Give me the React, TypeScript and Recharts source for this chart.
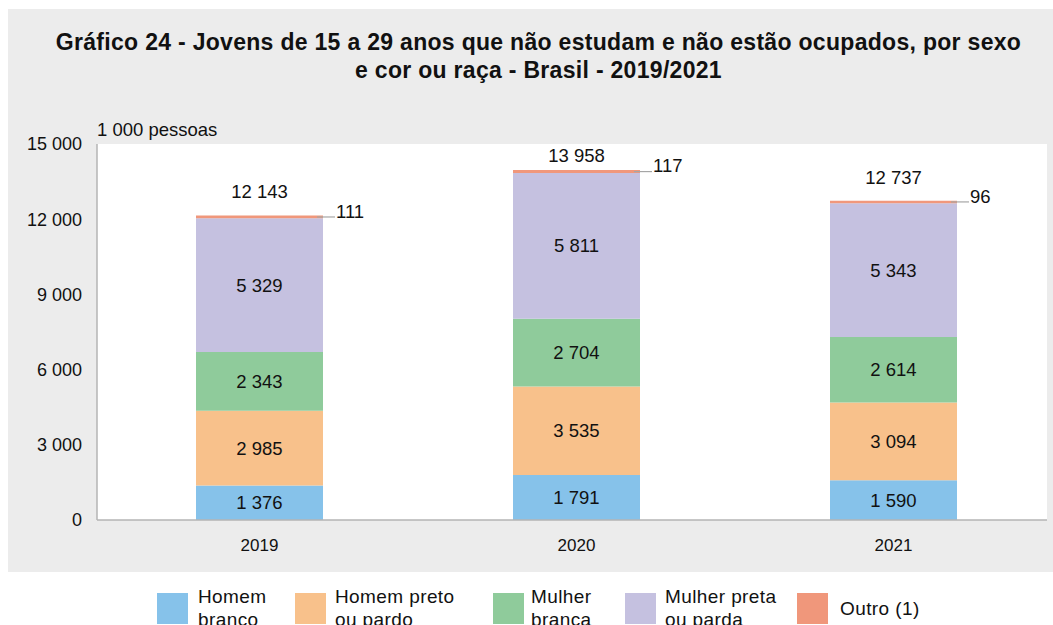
import React from "react";
import {
  BarChart,
  Bar,
  XAxis,
  YAxis,
  CartesianGrid,
  LabelList,
  Legend,
} from "recharts";

const years = ["2019", "2020", "2021"];
const homemBranco = [1376, 1791, 1590];
const homemPreto = [2985, 3535, 3094];
const mulherBranca = [2343, 2704, 2614];
const mulherPreta = [5329, 5811, 5343];
const outro = [111, 117, 96];
const totals = [12143, 13958, 12737];
const yTicks = [0, 3000, 6000, 9000, 12000, 15000];

const seriesKeys = ["hb", "hp", "mb", "mp", "ou"];
const seriesNames = [
  "Homem branco",
  "Homem preto ou pardo",
  "Mulher branca",
  "Mulher preta ou parda",
  "Outro (1)",
];
const legendLines = [
  ["Homem", "branco"],
  ["Homem preto", "ou pardo"],
  ["Mulher", "branca"],
  ["Mulher preta", "ou parda"],
  ["Outro (1)"],
];
const seriesColors = ["#86c2ea", "#f8c18b", "#8fcb9b", "#c5c1e0", "#f0977b"];

const data = years.map((y, i) => ({
  year: y,
  hb: homemBranco[i],
  hp: homemPreto[i],
  mb: mulherBranca[i],
  mp: mulherPreta[i],
  ou: outro[i],
  total: totals[i],
}));

const FONT = "'Liberation Sans', Arial, Helvetica, sans-serif";
const fmt = (n: number | string) =>
  String(n).replace(/\B(?=(\d{3})+(?!\d))/g, " ");

const LABEL_SIZE = 18.5;

const OutroLabel = (props: any) => {
  const { x, y, width, height, value } = props;
  const cy = y + height / 2;
  const right = x + width;
  return (
    <g>
      <line x1={right - 6} x2={right + 12} y1={cy} y2={cy} stroke="#a6a6a6" strokeWidth={1.2} />
      <text
        x={right + 13}
        y={cy - 4}
        fontSize={LABEL_SIZE}
        fontFamily={FONT}
        fill="#111"
        dominantBaseline="middle"
      >
        {fmt(value)}
      </text>
    </g>
  );
};

const TotalLabel = (props: any) => {
  const { x, y, width, value } = props;
  const ty = Math.max(y - 22, 157);
  return (
    <text
      x={x + width / 2}
      y={ty}
      fontSize={LABEL_SIZE}
      fontFamily={FONT}
      fill="#111"
      textAnchor="middle"
      dominantBaseline="middle"
    >
      {fmt(value)}
    </text>
  );
};

const legendLeft = [157, 295, 493, 625, 797];
const legendGap = [10, 9, 7, 9, 12];

const LegendContent = () => (
  <div style={{ position: "relative", width: 1053, height: 46, fontFamily: FONT, fontSize: 19, letterSpacing: 0.4, color: "#111" }}>
    {seriesKeys.map((k, i) => (
      <div
        key={k}
        style={{ position: "absolute", left: legendLeft[i], top: 0, height: 46, display: "flex", alignItems: "center" }}
      >
        <div style={{ width: 31, height: 31, background: seriesColors[i], marginRight: legendGap[i] }} />
        <div style={{ lineHeight: "23px" }}>
          {legendLines[i].map((l, j) => (
            <div key={j} style={{ whiteSpace: "nowrap" }}>{l}</div>
          ))}
        </div>
      </div>
    ))}
  </div>
);

export default function App() {
  return (
    <div
      style={{
        position: "fixed",
        left: 0,
        top: 0,
        width: 1053,
        height: 625,
        overflow: "hidden",
        background: "#fff",
        fontFamily: FONT,
      }}
    >
      <div style={{ position: "absolute", left: 8, top: 9, width: 1045, height: 563, background: "#ececec" }} />
      <div
        style={{
          position: "absolute",
          left: 16,
          top: 28,
          width: 1045,
          textAlign: "center",
          fontWeight: "bold",
          fontSize: 23,
          lineHeight: "28px",
          letterSpacing: 0.3,
          color: "#111",
        }}
      >
        <div>Gráfico 24 - Jovens de 15 a 29 anos que não estudam e não estão ocupados, por sexo</div>
        <div>e cor ou raça - Brasil - 2019/2021</div>
      </div>
      <div style={{ position: "absolute", left: 97, top: 119, fontSize: 18.5, color: "#111" }}>1 000 pessoas</div>
      <div style={{ position: "absolute", left: 0, top: 0 }}>
        <BarChart
          width={1053}
          height={625}
          data={data}
          margin={{ top: 144, right: 6, left: 7, bottom: 75 }}
        >
          <CartesianGrid horizontal={false} vertical={false} fill="#ffffff" />
          <XAxis
            dataKey="year"
            height={30}
            padding={{ left: 4, right: -5 }}
            axisLine={{ stroke: "#b4b4b4", strokeWidth: 1.5 }}
            tickLine={false}
            tickMargin={13}
            tick={{ fontSize: 17, fill: "#111", fontFamily: FONT }}
          />
          <XAxis xAxisId="top" dataKey="year" orientation="top" height={0} tick={false} tickLine={false} axisLine={{ stroke: "#b4b4b4", strokeWidth: 1.5 }} />
          <YAxis
            width={90}
            domain={[0, 15000]}
            ticks={yTicks}
            interval={0}
            tickFormatter={fmt}
            axisLine={{ stroke: "#b4b4b4", strokeWidth: 1.5 }}
            tickLine={false}
            tickMargin={9}
            tick={{ fontSize: 18, fill: "#111", fontFamily: FONT }}
          />
          <YAxis yAxisId="right" orientation="right" width={0} domain={[0, 15000]} tick={false} tickLine={false} axisLine={{ stroke: "#b4b4b4", strokeWidth: 1.5 }} />
          <Legend
            layout="horizontal"
            verticalAlign="middle"
            align="center"
            wrapperStyle={{ position: "absolute", top: 585, left: 0, width: 1053 }}
            content={<LegendContent />}
          />
          {seriesKeys.map((k, i) => (
            <Bar
              key={k}
              dataKey={k}
              name={seriesNames[i]}
              stackId="a"
              fill={seriesColors[i]}
              barSize={127}
              isAnimationActive={false}
            >
              {i < 4 ? (
                <LabelList
                  dataKey={k}
                  position="center"
                  formatter={(v: any) => fmt(v)}
                  style={{ fontSize: LABEL_SIZE, fill: "#111", fontFamily: FONT }}
                />
              ) : null}
              {i === 4 ? <LabelList dataKey={k} content={<OutroLabel />} /> : null}
              {i === 4 ? <LabelList dataKey="total" content={<TotalLabel />} /> : null}
            </Bar>
          ))}
        </BarChart>
      </div>
    </div>
  );
}
